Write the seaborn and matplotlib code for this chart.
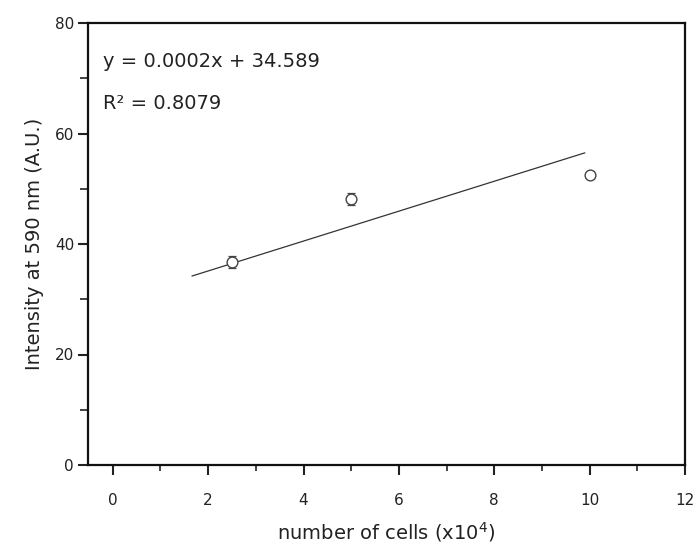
import numpy as np
import pandas as pd
import matplotlib
matplotlib.use("Agg")
import matplotlib.pyplot as plt
import seaborn as sns
from matplotlib.ticker import MultipleLocator

# data
cells = [2.5, 5.0, 10.0]
intensity = [36.7, 48.1, 52.4]
intensity_err = [1.1, 1.1, 0.0]
trend_x = [1.66, 9.9]
trend_y = [34.2, 56.5]
eq_text = "y = 0.0002x + 34.589"
r2_text = "R² = 0.8079"
x_ticks = [0, 2, 4, 6, 8, 10, 12]
y_ticks = [0, 20, 40, 60, 80]

sns.set_theme(style="ticks")
plt.rcParams['font.family'] = ['DejaVu Sans']
txt = "#222222"

fig = plt.figure(figsize=(6.97, 5.49), dpi=100)
ax = fig.add_axes([88/697, 1-465/549, (685-88)/697, (465-23)/549])

df = pd.DataFrame({"cells": cells, "intensity": intensity})
sns.lineplot(x=trend_x, y=trend_y, ax=ax, color="#333333", linewidth=0.9)
ax.errorbar(cells, intensity, yerr=intensity_err, fmt="none", ecolor="#444444",
            elinewidth=0.8, capsize=3, capthick=0.9, zorder=4)
sns.scatterplot(data=df, x="cells", y="intensity", ax=ax, marker="o", s=60,
                facecolor="white", edgecolor="#444444", linewidth=1.0, zorder=5)

ax.set_xlim(-0.52, 12)
ax.set_ylim(0, 80)
ax.set_xticks(x_ticks)
ax.set_yticks(y_ticks)
ax.xaxis.set_minor_locator(MultipleLocator(1))
ax.yaxis.set_minor_locator(MultipleLocator(10))
ax.tick_params(axis="x", which="major", length=7, width=1.5, pad=13, labelsize=11, colors=txt, direction="out")
ax.tick_params(axis="x", which="minor", length=4, width=1.2, direction="out", colors=txt)
ax.tick_params(axis="y", which="major", length=7, width=1.5, pad=3, labelsize=11, colors=txt, direction="out")
ax.tick_params(axis="y", which="minor", length=6, width=1.2, direction="out", colors=txt)
for s in ax.spines.values():
    s.set_visible(True)
    s.set_linewidth(1.6)
    s.set_color("#111111")

ax.set_xlabel("number of cells (x10$^{4}$)", fontsize=14, color=txt, labelpad=9)
ax.set_ylabel("Intensity at 590 nm (A.U.)", fontsize=14, color=txt, labelpad=8)

ax.text(0.025, 0.912, eq_text, transform=ax.transAxes, fontsize=14, color=txt, va="center", ha="left")
ax.text(0.025, 0.817, r2_text, transform=ax.transAxes, fontsize=14, color=txt, va="center", ha="left")

fig.savefig("out.png", dpi=100)
